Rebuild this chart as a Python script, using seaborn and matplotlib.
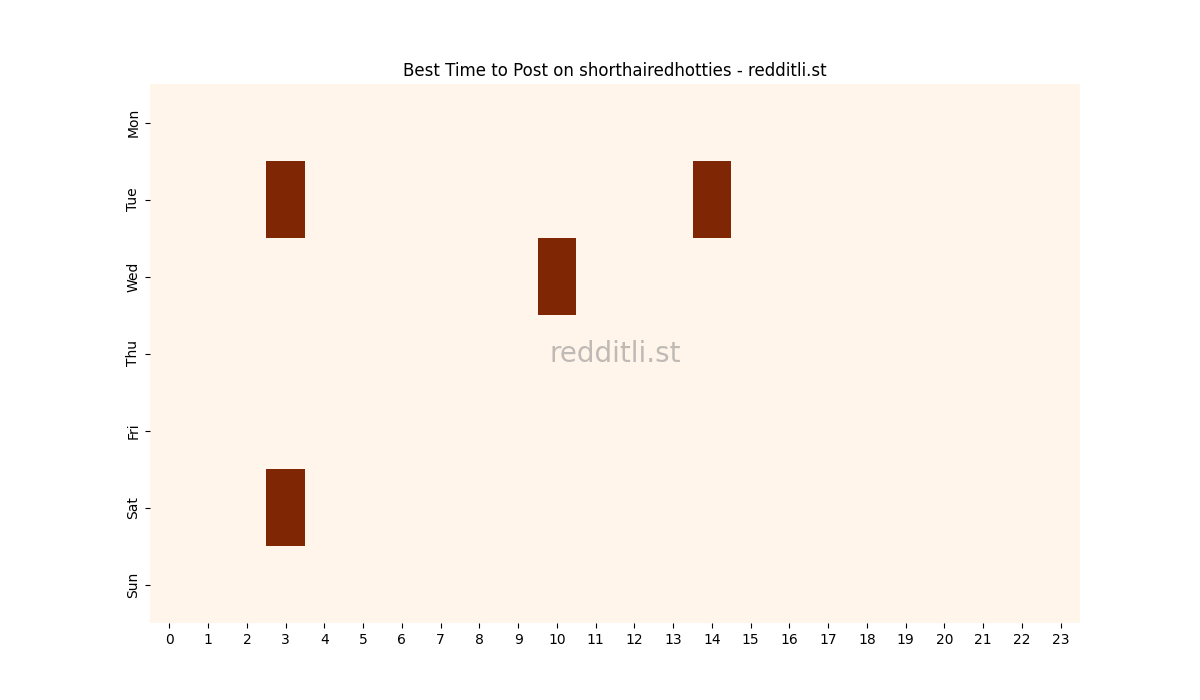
import numpy as np
import pandas as pd
import matplotlib
matplotlib.use("Agg")
import matplotlib.pyplot as plt
import seaborn as sns

days = ["Mon", "Tue", "Wed", "Thu", "Fri", "Sat", "Sun"]
hours = list(range(24))

# cells that hit the top of the scale (day, hour)
top_slots = [("Tue", 3), ("Tue", 14), ("Wed", 10), ("Sat", 3)]

grid = pd.DataFrame(0.0, index=days, columns=hours)
for day, hour in top_slots:
    grid.loc[day, hour] = 1.0

fig, ax = plt.subplots(figsize=(12, 7), dpi=100)
sns.heatmap(grid, cmap="Oranges", cbar=False, ax=ax)
ax.set_title("Best Time to Post on shorthairedhotties - redditli.st")
ax.text(0.5, 0.5, "redditli.st", transform=ax.transAxes, fontsize=20,
        color="gray", alpha=0.5, ha="center", va="center")
ax.tick_params(axis="x", rotation=0)
plt.savefig("out.png")
